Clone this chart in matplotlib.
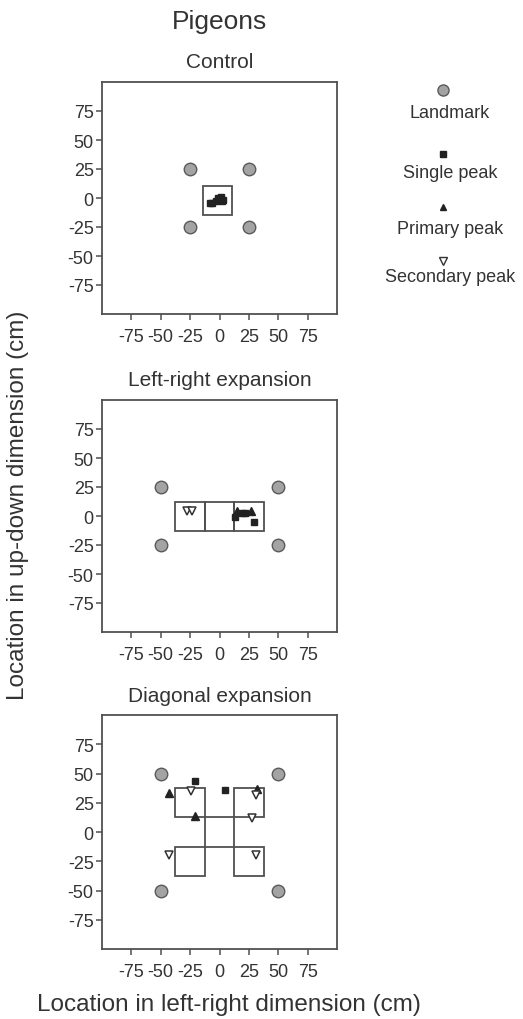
import matplotlib
matplotlib.use("Agg")
import matplotlib.pyplot as plt
from matplotlib.patches import Rectangle

plt.rcParams['font.family'] = ['Liberation Sans', 'DejaVu Sans']
plt.rcParams['axes.unicode_minus'] = False

INK = "#333333"
EDGE = "#505050"

# --- Data (cm) ---
panel_titles = ["Control", "Left-right expansion", "Diagonal expansion"]
ticks = [-75, -50, -25, 0, 25, 50, 75]

# landmark positions per panel
ctrl_landmark_x = [-25, 25, -25, 25]
ctrl_landmark_y = [25, 25, -25, -25]
lr_landmark_x = [-50, 50, -50, 50]
lr_landmark_y = [25, 25, -25, -25]
diag_landmark_x = [-50, 50, -50, 50]
diag_landmark_y = [50, 50, -50, -50]

# goal boxes: (x0, y0, width, height)
ctrl_boxes = [(-14, -15, 25, 25)]
lr_boxes = [(-37.5, -12.5, 25, 25), (-12.5, -12.5, 25, 25), (12.5, -12.5, 25, 25)]
diag_boxes = [(-37.5, 12.5, 25, 25), (12.5, 12.5, 25, 25),
              (-37.5, -37.5, 25, 25), (12.5, -37.5, 25, 25),
              (-12.5, -12.5, 25, 25)]

# peaks
ctrl_single_x = [-8, -6, -3, -1, 1, 3, 2]
ctrl_single_y = [-4, -4, -3, 0, 1, -2, -3]
ctrl_primary_x, ctrl_primary_y = [], []
ctrl_secondary_x, ctrl_secondary_y = [], []

lr_single_x = [13, 19, 22, 29]
lr_single_y = [-1, 3, 3, -5]
lr_primary_x = [15, 27]
lr_primary_y = [4, 4]
lr_secondary_x = [-28, -23]
lr_secondary_y = [4, 4]

diag_single_x = [-21, 5]
diag_single_y = [44, 36]
diag_primary_x = [-43, -21, 32]
diag_primary_y = [33, 14, 37]
diag_secondary_x = [-24, 31, 28, -43, 31]
diag_secondary_y = [35, 32, 12, -20, -20]

panels = [
    (ctrl_landmark_x, ctrl_landmark_y, ctrl_boxes, ctrl_single_x, ctrl_single_y,
     ctrl_primary_x, ctrl_primary_y, ctrl_secondary_x, ctrl_secondary_y),
    (lr_landmark_x, lr_landmark_y, lr_boxes, lr_single_x, lr_single_y,
     lr_primary_x, lr_primary_y, lr_secondary_x, lr_secondary_y),
    (diag_landmark_x, diag_landmark_y, diag_boxes, diag_single_x, diag_single_y,
     diag_primary_x, diag_primary_y, diag_secondary_x, diag_secondary_y),
]

W, H = 523, 1020
fig = plt.figure(figsize=(W / 100, H / 100), dpi=100)

# axes boxes in pixels: left, top, width, height
ax_px = [(102, 83, 235, 232), (102, 401, 235, 232), (102, 716, 235, 234)]


def style(ax):
    ax.set_xlim(-100, 100)
    ax.set_ylim(-100, 100)
    ax.set_xticks(ticks)
    ax.set_yticks(ticks)
    for s in ax.spines.values():
        s.set_color(EDGE)
        s.set_linewidth(1.3)
    ax.tick_params(direction="out", length=4, width=1.1, color=EDGE,
                   labelsize=13, labelcolor=INK)
    ax.tick_params(axis="x", pad=6)
    ax.tick_params(axis="y", pad=2)


for (l, t, w, h), title, p in zip(ax_px, panel_titles, panels):
    ax = fig.add_axes([l / W, 1 - (t + h) / H, w / W, h / H])
    style(ax)
    lmx, lmy, boxes, sx, sy, px, py, qx, qy = p
    for x0, y0, bw, bh in boxes:
        ax.add_patch(Rectangle((x0, y0), bw, bh, fill=False, ec=EDGE, lw=1.3, zorder=2))
    ax.plot(lmx, lmy, "o", ms=9, mfc="#a3a3a3", mec="#5a5a5a", mew=1.0, zorder=3)
    ax.plot(sx, sy, "s", ms=4.5, color="#222222", zorder=4)
    ax.plot(px, py, "^", ms=5.5, color="#222222", zorder=4)
    ax.plot(qx, qy, "v", ms=6, mfc="white", mec="#333333", mew=1.1, zorder=4)
    ax.text(0.5, 1 + 20 / h, title, transform=ax.transAxes, ha="center", va="center",
            fontsize=15, color=INK)

# legend
lax = fig.add_axes([370 / W, 1 - 300 / H, 160 / W, 230 / H])
lax.set_xlim(370, 530)
lax.set_ylim(300, 70)
lax.axis("off")
leg_labels = ["Landmark", "Single peak", "Primary peak", "Secondary peak"]
lax.plot([443], [91], "o", ms=8, mfc="#a3a3a3", mec="#5a5a5a", mew=1.0)
lax.plot([443], [155], "s", ms=4, color="#222222")
lax.plot([443], [208], "^", ms=5, color="#222222")
lax.plot([443], [262], "v", ms=5.5, mfc="white", mec="#333333", mew=1.0)
for lab, yy in zip(leg_labels, [113, 173, 230, 277]):
    lax.text(450, yy, lab, ha="center", va="center", fontsize=13, color=INK)

fig.text(219 / W, 1 - 22 / H, "Pigeons", ha="center", va="center", fontsize=19, color=INK)
fig.text(229 / W, 1 - 1005 / H, "Location in left-right dimension (cm)",
         ha="center", va="center", fontsize=17.5, color=INK)
fig.text(18 / W, 1 - 505 / H, "Location in up-down dimension (cm)",
         ha="center", va="center", rotation=90, fontsize=17.5, color=INK)

fig.savefig("out.png", dpi=100)
